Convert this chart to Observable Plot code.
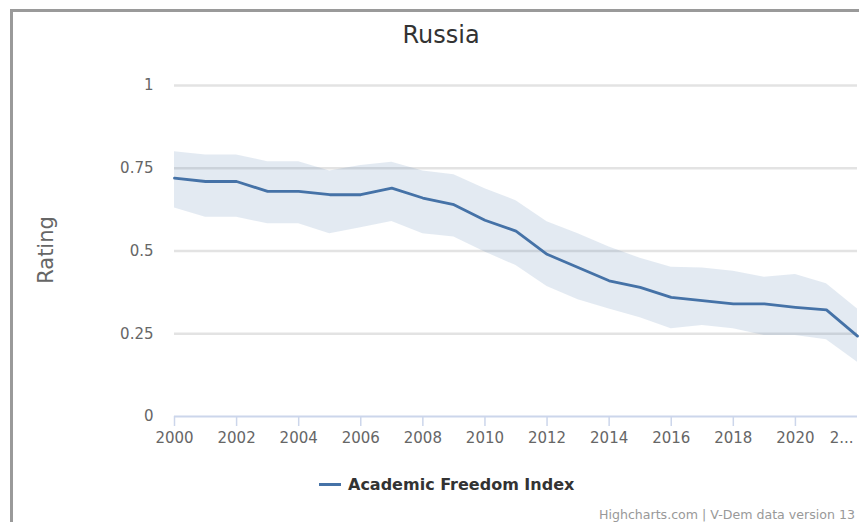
<!DOCTYPE html>
<html>
<head>
<meta charset="utf-8">
<script src="https://cdn.jsdelivr.net/npm/d3@7"></script>
<script src="https://cdn.jsdelivr.net/npm/@observablehq/plot@0.6"></script>
<style>
  html, body { margin: 0; padding: 0; background: #fff; }
  #wrap { position: relative; width: 859px; height: 522px; overflow: hidden; font-family: "DejaVu Sans", sans-serif; }
  #border { position: absolute; left: 10px; top: 9px; width: 900px; height: 600px; border-top: 3px solid #9a9a9a; border-left: 3px solid #9a9a9a; box-sizing: border-box; }
  #chart { position: absolute; left: 0; top: 0; }
  .lbl { position: absolute; white-space: nowrap; }
  #title { left: 0; width: 882px; text-align: center; top: 23px; font-size: 24px; line-height: 24px; color: #333; }
  #ylabel { left: 46px; top: 250px; font-size: 21px; line-height: 21px; color: #666; transform: translate(-50%, -50%) rotate(-90deg); }
  #legsym { left: 319px; top: 483px; width: 22px; height: 3px; background: #4572a7; }
  #legtext { left: 348px; top: 477px; font-size: 16px; line-height: 16px; font-weight: bold; color: #333; }
  #credits { right: 4px; top: 509px; font-size: 12.6px; line-height: 12px; color: #999; }
</style>
</head>
<body>
<div id="wrap">
  <div id="border"></div>
  <div id="chart"></div>
  <div class="lbl" id="title">Russia</div>
  <div class="lbl" id="ylabel">Rating</div>
  <div class="lbl" id="legsym"></div>
  <div class="lbl" id="legtext">Academic Freedom Index</div>
  <div class="lbl" id="credits">Highcharts.com | V-Dem data version 13</div>
</div>
<script>
const years = [2000,2001,2002,2003,2004,2005,2006,2007,2008,2009,2010,2011,2012,2013,2014,2015,2016,2017,2018,2019,2020,2021,2022];
const indexValues = [0.72,0.71,0.71,0.68,0.68,0.67,0.67,0.69,0.66,0.64,0.593,0.56,0.49,0.45,0.41,0.39,0.36,0.35,0.34,0.34,0.33,0.322,0.243];
const upperValues = [0.80,0.79,0.79,0.77,0.77,0.742,0.758,0.768,0.742,0.73,0.688,0.652,0.588,0.552,0.512,0.478,0.451,0.449,0.439,0.421,0.429,0.401,0.325];
const lowerValues = [0.63,0.602,0.602,0.582,0.582,0.552,0.57,0.589,0.552,0.542,0.497,0.456,0.393,0.353,0.325,0.298,0.265,0.275,0.265,0.245,0.245,0.232,0.164];
const xTickYears = [2000,2002,2004,2006,2008,2010,2012,2014,2016,2018,2020];
const xLastTick = [2022];
const xLastLabel = "2...";
const yTicks = [0, 0.25, 0.5, 0.75, 1];
const gridTicks = [0.25, 0.5, 0.75, 1];

const data = years.map((y, i) => ({year: y, value: indexValues[i], lo: lowerValues[i], hi: upperValues[i]}));

const chart = Plot.plot({
  width: 859,
  height: 460,
  marginTop: 85,
  marginBottom: 44,
  marginLeft: 174,
  marginRight: 2,
  style: {fontFamily: "DejaVu Sans, sans-serif", fontSize: "15px", color: "#666", background: "transparent", overflow: "visible"},
  x: {domain: [2000, 2022]},
  y: {domain: [0, 1]},
  marks: [
    Plot.ruleY(gridTicks, {stroke: "#e3e3e3", strokeWidth: 2.5}),
    Plot.areaY(data, {x: "year", y1: "lo", y2: "hi", fill: "#4572a7", fillOpacity: 0.15}),
    Plot.lineY(data, {x: "year", y: "value", stroke: "#4572a7", strokeWidth: 2.8, strokeLinejoin: "round"}),
    Plot.ruleY([0], {stroke: "#ccd6eb", strokeWidth: 2}),
    Plot.axisX({ticks: xTickYears, tickSize: 10, tickPadding: 6, stroke: "#ccd6eb", strokeWidth: 1.5, fill: "#666", fontSize: 15, tickFormat: d => String(d), label: null}),
    Plot.axisX({ticks: xLastTick, tickSize: 0, tickPadding: 16, textAnchor: "end", dx: -4, fill: "#666", fontSize: 15, tickFormat: () => xLastLabel, label: null}),
    Plot.axisY({ticks: yTicks, tickSize: 0, tickPadding: 21, fill: "#666", fontSize: 15, tickFormat: d => String(d), label: null})
  ]
});
document.getElementById("chart").appendChild(chart);
</script>
</body>
</html>
